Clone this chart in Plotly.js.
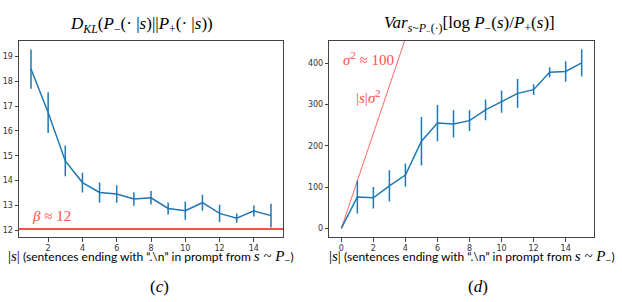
<!DOCTYPE html>
<html><head><meta charset="utf-8">
<script src="https://cdn.plot.ly/plotly-3.0.1.min.js"></script>
<style>html,body{margin:0;padding:0;background:#fff}#plot{width:622px;height:302px}</style>
</head><body><div id="plot"></div>
<script>
// Left panel (c): KL divergence vs |s|
const klX = [1,2,3,4,5,6,7,8,9,10,11,12,13,14,15];
const klY = [18.49,16.74,14.79,13.92,13.52,13.46,13.26,13.31,12.88,12.79,13.11,12.68,12.49,12.78,12.59];
const klErr = [0.79,0.82,0.62,0.40,0.40,0.35,0.27,0.27,0.24,0.37,0.32,0.35,0.19,0.22,0.48];
const betaLevel = 12.05;

// Right panel (d): variance vs |s|
const varX = [0,1,2,3,4,5,6,7,8,9,10,11,12,13,14,15];
const varY = [0,76,74,103,129,211,255,253,261,287,307,327,336,378,380,401];
const varErr = [0,40,26,38,28,59,44,33,25,25,27,35,13,12,25,33];
const sigmaSlope = 115;
const lineX = [0,15];

const blue = '#1f77b4';
const red = '#ff4d4d';
const serif = 'Liberation Serif, DejaVu Serif, serif';
const sans = 'Lato, Open Sans, sans-serif';

const traces = [
  {x: klX, y: klY, type:'scatter', mode:'lines', xaxis:'x', yaxis:'y',
   line:{color:blue, width:1.5},
   error_y:{type:'data', array:klErr, visible:true, color:blue, thickness:1.5, width:0}},
  {x: [0,16], y: [betaLevel,betaLevel], type:'scatter', mode:'lines', xaxis:'x', yaxis:'y',
   line:{color:red, width:2}},
  {x: lineX, y: lineX.map(v=>v*sigmaSlope), type:'scatter', mode:'lines', xaxis:'x2', yaxis:'y2',
   line:{color:'#ff6666', width:1}},
  {x: varX, y: varY, type:'scatter', mode:'lines', xaxis:'x2', yaxis:'y2',
   line:{color:blue, width:1.5},
   error_y:{type:'data', array:varErr, visible:true, color:blue, thickness:1.5, width:0}}
];

const axBase = {showline:true, mirror:true, linecolor:'#444', linewidth:1, ticks:'outside', ticklen:3.5,
  tickcolor:'#444', tickfont:{family:'DejaVu Sans', size:8, color:'#333'}, showgrid:false, zeroline:false};

const xTitle = '<span style="font-family:Liberation Serif;font-size:15px">|<i>s</i>|</span> (sentences ending with “.\\n” in prompt from <span style="font-family:Liberation Serif;font-size:15px"><i>s</i> ~ <i>P</i><sub>−</sub></span>)';

const yd = [1-237/302, 1-40.7/302];
const layout = {
  width:622, height:302, margin:{l:0,r:0,t:0,b:0}, showlegend:false,
  paper_bgcolor:'#fff', plot_bgcolor:'#fff',
  xaxis: Object.assign({}, axBase, {domain:[19/622, 283/622], range:[0.3,15.7], tickvals:[2,4,6,8,10,12,14], anchor:'y'}),
  yaxis: Object.assign({}, axBase, {domain:yd, range:[11.73,19.63], tickvals:[12,13,14,15,16,17,18,19], anchor:'x'}),
  xaxis2: Object.assign({}, axBase, {domain:[329.3/622, 593.7/622], range:[-0.75,15.75], tickvals:[0,2,4,6,8,10,12,14], anchor:'y2'}),
  yaxis2: Object.assign({}, axBase, {domain:yd, range:[-21,454.6], tickvals:[0,100,200,300,400], anchor:'x2'}),
  annotations: [
    {xref:'paper', yref:'paper', x:141/622, y:1-25/302, showarrow:false, xanchor:'center', yanchor:'middle',
     text:'<i>D</i><sub><i>KL</i></sub>(<i>P</i><sub>−</sub>(· |<i>s</i>)||<i>P</i><sub>+</sub>(· |<i>s</i>))',
     font:{family:serif, size:17, color:'#000'}},
    {xref:'paper', yref:'paper', x:469/622, y:1-25/302, showarrow:false, xanchor:'center', yanchor:'middle',
     text:'<i>Var</i><sub><i>s</i>~<i>P</i><sub>−</sub>(·)</sub>[log <i>P</i><sub>−</sub>(<i>s</i>)/<i>P</i><sub>+</sub>(<i>s</i>)]',
     font:{family:serif, size:17, color:'#000'}},
    {xref:'paper', yref:'paper', x:151/622, y:1-257/302, showarrow:false, xanchor:'center', yanchor:'middle',
     text:xTitle, font:{family:sans, size:12, color:'#000'}},
    {xref:'paper', yref:'paper', x:472/622, y:1-257/302, showarrow:false, xanchor:'center', yanchor:'middle',
     text:xTitle, font:{family:sans, size:12, color:'#000'}},
    {xref:'paper', yref:'paper', x:159/622, y:1-286/302, showarrow:false, xanchor:'center', yanchor:'middle',
     text:'(<i>c</i>)', font:{family:serif, size:17, color:'#000'}},
    {xref:'paper', yref:'paper', x:478/622, y:1-286/302, showarrow:false, xanchor:'center', yanchor:'middle',
     text:'(<i>d</i>)', font:{family:serif, size:17, color:'#000'}},
    {xref:'x', yref:'y', x:2.2, y:12.56, showarrow:false, xanchor:'center', yanchor:'middle',
     text:'<i>β</i> ≈ 12', font:{family:serif, size:15, color:red}},
    {xref:'x2', yref:'y2', x:1.67, y:410, showarrow:false, xanchor:'center', yanchor:'middle',
     text:'<i>σ</i><sup>2</sup> ≈ 100', font:{family:serif, size:15, color:red}},
    {xref:'x2', yref:'y2', x:1.70, y:318, showarrow:false, xanchor:'center', yanchor:'middle',
     text:'|<i>s</i>|<i>σ</i><sup>2</sup>', font:{family:serif, size:15, color:red}}
  ]
};
Plotly.newPlot('plot', traces, layout, {displayModeBar:false, staticPlot:true});
</script></body></html>
